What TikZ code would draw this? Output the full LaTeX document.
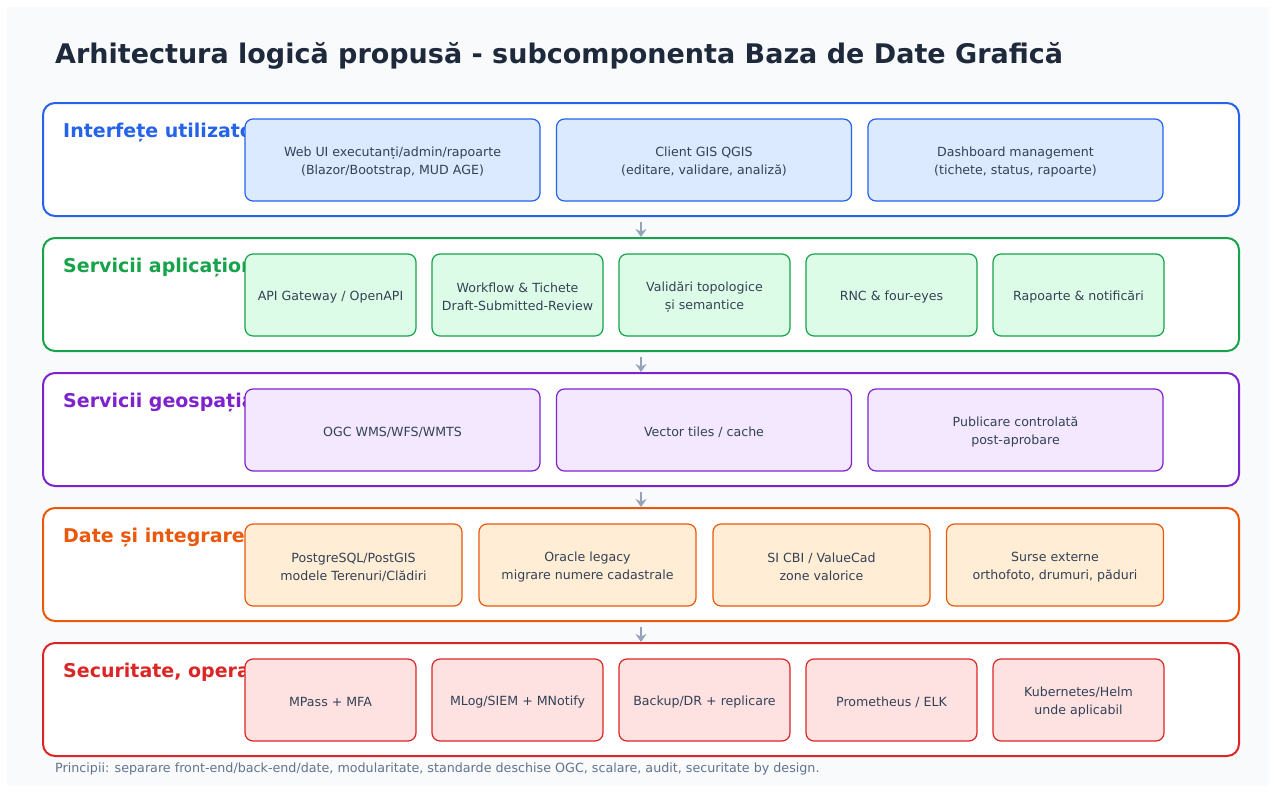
\documentclass[tikz,border=0pt]{standalone}
\usepackage{fontspec}
\setmainfont{DejaVu Sans}
\usetikzlibrary{arrows.meta}
\definecolor{bgc}{HTML}{F8FAFC}
\definecolor{titlec}{HTML}{1E293B}
\definecolor{txtc}{HTML}{334155}
\definecolor{footc}{HTML}{64748B}
\definecolor{arrc}{HTML}{94A3B8}
\definecolor{blueS}{HTML}{2563EB}\definecolor{blueF}{HTML}{DBEAFE}
\definecolor{greenS}{HTML}{16A34A}\definecolor{greenF}{HTML}{DCFCE7}
\definecolor{purpS}{HTML}{7E22CE}\definecolor{purpF}{HTML}{F3E8FF}
\definecolor{oranS}{HTML}{EA580C}\definecolor{oranF}{HTML}{FFEDD5}
\definecolor{redS}{HTML}{DC2626}\definecolor{redF}{HTML}{FEE2E2}
\begin{document}
\begin{tikzpicture}[x=1pt,y=-1pt,
  layer/.style={draw=#1, line width=2pt, fill=white, rounded corners=12pt,
    minimum width=1196pt, minimum height=113pt, inner sep=0pt},
  lbl/.style={anchor=base west, text=#1, inner sep=0pt,
    font=\fontsize{19}{22}\selectfont\bfseries},
  comp/.style 2 args={draw=#1, fill=#2, line width=1.2pt, rounded corners=8pt,
    minimum height=82pt, inner sep=0pt},
  ctext/.style={inner sep=0pt, align=center, text=txtc, yshift=-2pt,
    font=\fontsize{12.6}{18}\selectfont},
  flow/.style={draw=arrc, line width=2.6pt, -{Stealth[length=8pt,width=11pt]}, shorten <=5pt}
]
\useasboundingbox (0,0) rectangle (1275,792);
\fill[white] (0,0) rectangle (1275,792);
\node[fill=bgc, draw=bgc, minimum width=1261pt, minimum height=778pt, inner sep=0pt] (bg) at (637.5,396) {};
\node[anchor=base west, text=titlec, inner sep=0pt, font=\fontsize{27}{31}\selectfont\bfseries] (title) at (55,64) {Arhitectura logică propusă - subcomponenta Baza de Date Grafică};

% layers
\node[layer=blueS] (L1) at (641,159.5) {};
\node[layer=greenS] (L2) at (641,294.5) {};
\node[layer=purpS] (L3) at (641,429.5) {};
\node[layer=oranS] (L4) at (641,564.5) {};
\node[layer=redS] (L5) at (641,699.5) {};

\node[lbl=blueS] (t1) at (63,137) {Interfețe utilizatori};
\node[lbl=greenS] (t2) at (63,272) {Servicii aplicaționale};
\node[lbl=purpS] (t3) at (63,407) {Servicii geospațiale};
\node[lbl=oranS] (t4) at (63,542) {Date și integrare};
\node[lbl=redS] (t5) at (63,677) {Securitate, operare};

% layer 1
\begin{scope}[every node/.append style={minimum width=295pt}]
\node[comp={blueS}{blueF}, label={[ctext]center:Web UI executanți/admin/rapoarte\\(Blazor/Bootstrap, MUD AGE)}] (a1) at (392.5,160) {};
\node[comp={blueS}{blueF}, label={[ctext]center:Client GIS QGIS\\(editare, validare, analiză)}] (a2) at (704,160) {};
\node[comp={blueS}{blueF}, label={[ctext]center:Dashboard management\\(tichete, status, rapoarte)}] (a3) at (1015.5,160) {};
\end{scope}
% layer 2
\begin{scope}[every node/.append style={minimum width=171pt}]
\node[comp={greenS}{greenF}, label={[ctext]center:API Gateway / OpenAPI}] (b1) at (330.5,295) {};
\node[comp={greenS}{greenF}, label={[ctext]center:Workflow \& Tichete\\Draft-Submitted-Review}] (b2) at (517.5,295) {};
\node[comp={greenS}{greenF}, label={[ctext]center:Validări topologice\\și semantice}] (b3) at (704.5,295) {};
\node[comp={greenS}{greenF}, label={[ctext]center:RNC \& four-eyes}] (b4) at (891.5,295) {};
\node[comp={greenS}{greenF}, label={[ctext]center:Rapoarte \& notificări}] (b5) at (1078.5,295) {};
\end{scope}
% layer 3
\begin{scope}[every node/.append style={minimum width=295pt}]
\node[comp={purpS}{purpF}, label={[ctext]center:OGC WMS/WFS/WMTS}] (c1) at (392.5,430) {};
\node[comp={purpS}{purpF}, label={[ctext]center:Vector tiles / cache}] (c2) at (704,430) {};
\node[comp={purpS}{purpF}, label={[ctext]center:Publicare controlată\\post-aprobare}] (c3) at (1015.5,430) {};
\end{scope}
% layer 4
\begin{scope}[every node/.append style={minimum width=217pt}]
\node[comp={oranS}{oranF}, label={[ctext]center:PostgreSQL/PostGIS\\modele Terenuri/Clădiri}] (d1) at (353.5,565) {};
\node[comp={oranS}{oranF}, label={[ctext]center:Oracle legacy\\migrare numere cadastrale}] (d2) at (587.5,565) {};
\node[comp={oranS}{oranF}, label={[ctext]center:SI CBI / ValueCad\\zone valorice}] (d3) at (821.5,565) {};
\node[comp={oranS}{oranF}, label={[ctext]center:Surse externe\\orthofoto, drumuri, păduri}] (d4) at (1055,565) {};
\end{scope}
% layer 5
\begin{scope}[every node/.append style={minimum width=171pt}]
\node[comp={redS}{redF}, label={[ctext]center:MPass + MFA}] (e1) at (330.5,700) {};
\node[comp={redS}{redF}, label={[ctext]center:MLog/SIEM + MNotify}] (e2) at (517.5,700) {};
\node[comp={redS}{redF}, label={[ctext]center:Backup/DR + replicare}] (e3) at (704.5,700) {};
\node[comp={redS}{redF}, label={[ctext]center:Prometheus / ELK}] (e4) at (891.5,700) {};
\node[comp={redS}{redF}, label={[ctext]center:Kubernetes/Helm\\unde aplicabil}] (e5) at (1078.5,700) {};
\end{scope}

% arrows
\draw[flow] (L1.south) -- (L2.north);
\draw[flow] (L2.south) -- (L3.north);
\draw[flow] (L3.south) -- (L4.north);
\draw[flow] (L4.south) -- (L5.north);

\node[anchor=base west, text=footc, inner sep=0pt, font=\fontsize{12.7}{15}\selectfont] (foot) at (55,772) {Principii: separare front-end/back-end/date, modularitate, standarde deschise OGC, scalare, audit, securitate by design.};
\end{tikzpicture}
\end{document}
